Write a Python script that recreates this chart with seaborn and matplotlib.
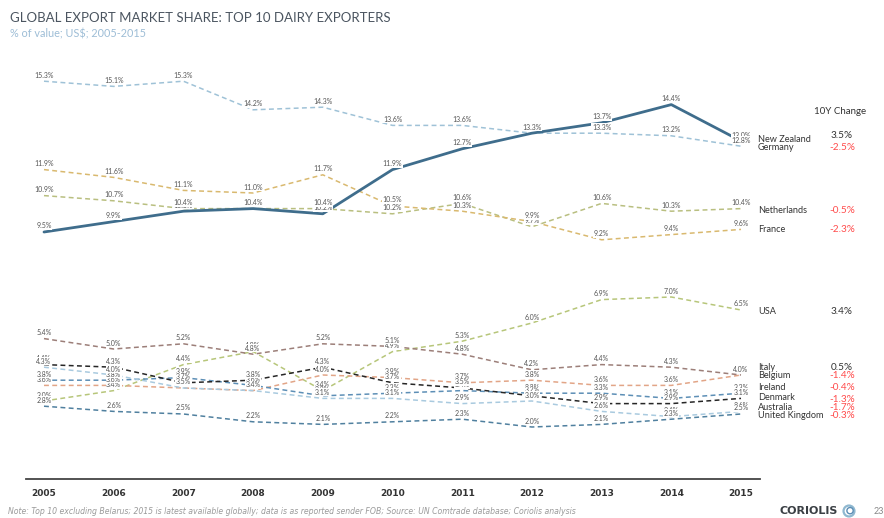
import matplotlib
matplotlib.use("Agg")
import matplotlib.pyplot as plt
import seaborn as sns
import pandas as pd
from matplotlib.patches import Circle

# ---------------- data ----------------
years = [2005, 2006, 2007, 2008, 2009, 2010, 2011, 2012, 2013, 2014, 2015]
new_zealand = [9.5, 9.9, 10.3, 10.4, 10.2, 11.9, 12.7, 13.3, 13.7, 14.4, 13.0]
germany = [15.3, 15.1, 15.3, 14.2, 14.3, 13.6, 13.6, 13.3, 13.3, 13.2, 12.8]
netherlands = [10.9, 10.7, 10.4, 10.4, 10.4, 10.2, 10.6, 9.7, 10.6, 10.3, 10.4]
france = [11.9, 11.6, 11.1, 11.0, 11.7, 10.5, 10.3, 9.9, 9.2, 9.4, 9.6]
usa = [3.0, 3.4, 4.4, 4.9, 3.4, 4.9, 5.3, 6.0, 6.9, 7.0, 6.5]
belgium = [5.4, 5.0, 5.2, 4.8, 5.2, 5.1, 4.8, 4.2, 4.4, 4.3, 4.0]
italy = [3.6, 3.6, 3.5, 3.4, 4.0, 3.9, 3.7, 3.8, 3.6, 3.6, 4.0]
ireland = [3.8, 3.8, 3.9, 3.6, 3.2, 3.3, 3.4, 3.3, 3.3, 3.1, 3.3]
denmark = [4.4, 4.3, 3.7, 3.8, 4.3, 3.7, 3.5, 3.2, 2.9, 2.9, 3.1]
australia = [4.3, 4.0, 3.5, 3.4, 3.1, 3.1, 2.9, 3.0, 2.6, 2.4, 2.6]
united_kingdom = [2.8, 2.6, 2.5, 2.2, 2.1, 2.2, 2.3, 2.0, 2.1, 2.3, 2.5]

countries = ["New Zealand", "Germany", "Netherlands", "France", "USA", "Italy",
             "Belgium", "Ireland", "Denmark", "Australia", "United Kingdom"]
series = [new_zealand, germany, netherlands, france, usa, italy,
          belgium, ireland, denmark, australia, united_kingdom]
change_labels = ["3.5%", "-2.5%", "-0.5%", "-2.3%", "3.4%", "0.5%",
                 "-1.4%", "-0.4%", "-1.3%", "-1.7%", "-0.3%"]

# ---------------- style ----------------
colors = {
    "New Zealand": "#3f6d8c",
    "Germany": "#9fc2d7",
    "Netherlands": "#b9bf80",
    "France": "#d9b96f",
    "USA": "#b7c67a",
    "Italy": "#e2a587",
    "Belgium": "#9c7f79",
    "Ireland": "#5d8fb6",
    "Denmark": "#262626",
    "Australia": "#a9cadf",
    "United Kingdom": "#50809f",
}
# pixel y positions of right-hand labels (layout only)
name_ypx = [139, 148, 210, 230, 312, 367, 376, 388, 398, 407, 416]
chg_ypx = [135, 148, 210, 230, 312, 367, 376, 388, 400, 407, 416]

W, H = 884, 518
sns.set_theme(style="white")
plt.rcParams["font.family"] = ["Lato", "DejaVu Sans"]

rows = []
for c, vals in zip(countries, series):
    for y, v in zip(years, vals):
        rows.append({"country": c, "year": y, "share": v})
df = pd.DataFrame(rows)

fig = plt.figure(figsize=(W / 100, H / 100), dpi=100)
ax_left, ax_right, ax_top, ax_bot = 26, 760, 60, 479
ax = fig.add_axes([ax_left / W, 1 - ax_bot / H, (ax_right - ax_left) / W, (ax_bot - ax_top) / H])

ppy = (741 - 44) / 10.0
ax.set_xlim(2005 - (44 - ax_left) / ppy, 2015 + (ax_right - 741) / ppy)
ax.set_ylim(0, (ax_bot - ax_top) / 26.0)

dashed = df[df.country != "New Zealand"]
sns.lineplot(data=dashed, x="year", y="share", hue="country", palette=colors,
             ax=ax, legend=False, linewidth=1.1, estimator=None)
for ln in ax.lines:
    ln.set_dashes([3.2, 2.2])
sns.lineplot(data=df[df.country == "New Zealand"], x="year", y="share",
             color=colors["New Zealand"], ax=ax, legend=False, linewidth=2.0,
             estimator=None)

# data labels
for c, vals in zip(countries, series):
    for y, v in zip(years, vals):
        ax.annotate(f"{v:.1f}%", (y, v), xytext=(0, 6), textcoords="offset pixels",
                    ha="center", va="center", fontsize=5.0, color="#555555",
                    bbox=dict(boxstyle="square,pad=0.08", fc="white", ec="none"),
                    zorder=5)

# axes styling
for s in ["top", "right", "left"]:
    ax.spines[s].set_visible(False)
ax.spines["bottom"].set_color("#444444")
ax.spines["bottom"].set_linewidth(1.3)
ax.set_yticks([])
ax.set_xticks(years)
ax.set_xticklabels([str(y) for y in years], fontsize=6.5, color="#333333",
                   fontweight="bold", family=["Liberation Sans Narrow", "DejaVu Sans"])
ax.tick_params(axis="x", length=0, pad=7)
ax.set_xlabel("")
ax.set_ylabel("")

# right-hand labels
for c, chg, ny, cy in zip(countries, change_labels, name_ypx, chg_ypx):
    fig.text(758 / W, 1 - ny / H, c, fontsize=6.6, color="#333333", ha="left", va="center")
    col = "#ff4c4c" if chg.startswith("-") else "#333333"
    fig.text(842 / W, 1 - cy / H, chg, fontsize=7.2, color=col, ha="center", va="center")
fig.text(840 / W, 1 - 112 / H, "10Y Change", fontsize=7.0, color="#333333",
         ha="center", va="center")

# titles
fig.text(10 / W, 1 - 18 / H, "GLOBAL EXPORT MARKET SHARE: TOP 10 DAIRY EXPORTERS",
         fontsize=9.5, color="#4b5560", ha="left", va="center")
fig.text(10 / W, 1 - 34 / H, "% of value; US$; 2005-2015", fontsize=7.8,
         color="#9dbdd6", ha="left", va="center")

# footer
fig.text(8 / W, 1 - 511 / H,
         "Note: Top 10 excluding Belarus; 2015 is latest available globally; data is as reported "
         "sender FOB; Source: UN Comtrade database; Coriolis analysis",
         fontsize=5.6, color="#9a9a9a", style="italic", ha="left", va="center",
         family=["Liberation Sans Narrow", "DejaVu Sans"])
fig.text(838 / W, 1 - 511 / H, "CORIOLIS", fontsize=8.0, color="#3a3f44",
         fontweight="bold", ha="right", va="center",
         family=["Liberation Sans Narrow", "DejaVu Sans"])
logo = fig.add_axes([842 / W, 1 - 518 / H, 14 / W, 14 / H])
logo.set_xlim(-1, 1)
logo.set_ylim(-1, 1)
logo.set_aspect("equal")
logo.axis("off")
logo.add_patch(Circle((0, 0), 0.78, fill=False, ec="#8fb8d0", lw=1.6))
logo.add_patch(Circle((0.15, 0.05), 0.45, fill=False, ec="#5b8db5", lw=1.0))
fig.text(874 / W, 1 - 511 / H, "23", fontsize=6.5, color="#888888", ha="left", va="center")

fig.savefig("out.png", dpi=100)
